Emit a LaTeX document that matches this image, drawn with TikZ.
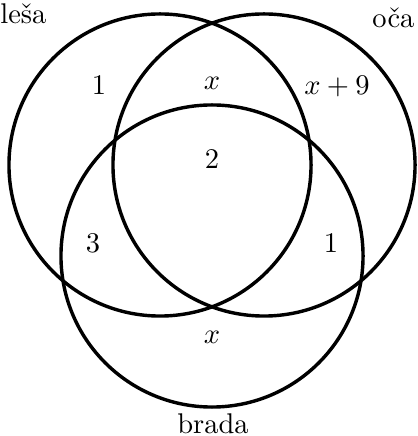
\documentclass[tikz,border=0pt]{standalone}
\begin{document}
\begin{tikzpicture}[x=0.3509pt,y=-0.3509pt,
  setc/.style={circle,draw,line width=1.2pt,minimum size=106pt,inner sep=0pt},
  lbl/.style={anchor=base,inner sep=0pt}]
\useasboundingbox (0,0) rectangle (417,436);
\node[setc] (L) at (160,165) {};
\node[setc] (R) at (264,165) {};
\node[setc] (B) at (212,256) {};
\node[anchor=base east,inner sep=0pt] (pl) at (47,24) {pleša};
\node[anchor=base east,inner sep=0pt] (oc) at (415,28) {oča};
\node[lbl] (br) at (213,433) {brada};
\node[lbl] (a1) at (99,95) {$1$};
\node[lbl] (a2) at (212,90) {$x$};
\node[lbl] (a3) at (337,95) {$x+9$};
\node[lbl] (a4) at (212,169) {$2$};
\node[lbl] (a5) at (93,253) {$3$};
\node[lbl] (a6) at (331,253) {$1$};
\node[lbl] (a7) at (212,343) {$x$};
\end{tikzpicture}
\end{document}
